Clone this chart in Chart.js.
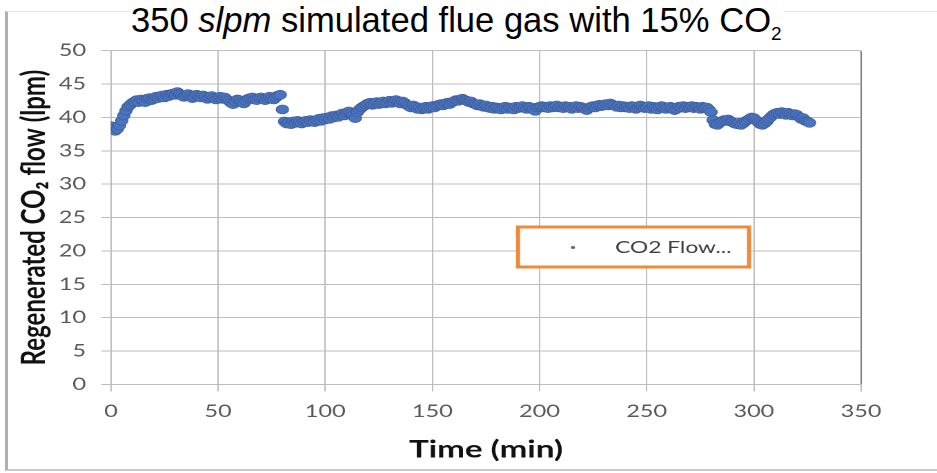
<!DOCTYPE html>
<html>
<head>
<meta charset="utf-8">
<script src="https://cdn.jsdelivr.net/npm/chart.js@4.4.1/dist/chart.umd.min.js"></script>
<style>
html, body { margin:0; padding:0; background:#fff; width:937px; height:473px; overflow:hidden; }
#frame { position:absolute; left:5px; top:11px; width:940px; height:457px;
  border-left:3px solid #b0b0b0; border-top:1px solid #e2e2e2; border-bottom:2px solid #c8c8c8; }
#wrap { position:absolute; left:0; top:0; width:679px; height:473px; transform:scaleX(1.38); transform-origin:0 0; }
#title { position:absolute; left:129px; top:1px; padding:0 2px; background:#fff;
  font-family:"Liberation Sans", Arial, sans-serif; font-size:34.6px; line-height:38px; color:#000; white-space:nowrap; }
#title .sub { font-size:19px; position:relative; top:8px; }
</style>
</head>
<body>
<div id="frame"></div>
<div id="wrap"><canvas id="c" width="679" height="473"></canvas></div>
<div id="title">350 <i>slpm</i> simulated flue gas with 15% CO<span class="sub">2</span></div>
<script>
// ---- data ----
const legendLabel = 'CO2 Flow...';
const xTitle = 'Time (min)';
const yTitle = 'Regenerated CO\u2082 flow (lpm)';
const xTicks = [0, 50, 100, 150, 200, 250, 300, 350];
const yTicks = [0, 5, 10, 15, 20, 25, 30, 35, 40, 45, 50];

const times = [
  0,1,2,3,4,5,6,7,8,9,10,11,12,13,14,15,16,17,18,19,
  20,21,22,23,24,25,26,27,28,29,30,31,32,33,34,35,36,37,38,39,
  40,41,42,43,44,45,46,47,48,49,50,51,52,53,54,55,56,57,58,59,
  60,61,62,63,64,65,66,67,68,69,70,71,72,73,74,75,76,77,78,79,
  80,81,82,83,84,85,86,87,88,89,90,91,92,93,94,95,96,97,98,99,
  100,101,102,103,104,105,106,107,108,109,110,111,112,113,114,115,116,117,118,119,
  120,121,122,123,124,125,126,127,128,129,130,131,132,133,134,135,136,137,138,139,
  140,141,142,143,144,145,146,147,148,149,150,151,152,153,154,155,156,157,158,159,
  160,161,162,163,164,165,166,167,168,169,170,171,172,173,174,175,176,177,178,179,
  180,181,182,183,184,185,186,187,188,189,190,191,192,193,194,195,196,197,198,199,
  200,201,202,203,204,205,206,207,208,209,210,211,212,213,214,215,216,217,218,219,
  220,221,222,223,224,225,226,227,228,229,230,231,232,233,234,235,236,237,238,239,
  240,241,242,243,244,245,246,247,248,249,250,251,252,253,254,255,256,257,258,259,
  260,261,262,263,264,265,266,267,268,269,270,271,272,273,274,275,276,277,278,279,
  280,281,282,283,284,285,286,287,288,289,290,291,292,293,294,295,296,297,298,299,
  300,301,302,303,304,305,306,307,308,309,310,311,312,313,314,315,316,317,318,319,
  320,321,322,323,324,325,326
];

const co2Flow = [
  38.7, 38.3, 38.0, 38.3, 38.8, 39.5, 40.3, 41.0, 41.6, 41.9,
  42.2, 42.4, 42.6, 42.3, 42.7, 42.5, 42.3, 42.8, 42.9, 42.6,
  42.8, 43.1, 42.9, 43.2, 43.3, 43.0, 43.4, 43.2, 43.5, 43.6,
  43.4, 43.8, 43.5, 43.3, 43.1, 43.3, 43.5, 43.2, 42.9, 43.1,
  43.4, 43.2, 43.0, 43.3, 43.1, 42.8, 43.0, 43.2, 42.9, 42.7,
  43.0, 43.1, 42.8, 43.0, 42.7, 42.5, 42.2, 42.0, 42.4, 42.7,
  42.6, 42.3, 42.1, 42.5, 42.8, 42.9, 43.0, 42.7, 42.6, 42.9,
  43.0, 42.8, 42.6, 42.9, 43.1, 42.8, 42.7, 43.0, 43.3, 43.4,
  41.2, 39.4, 39.1, 39.3, 39.0, 39.4, 39.2, 39.5, 39.3, 39.1,
  39.4, 39.5, 39.3, 39.6, 39.4, 39.3, 39.6, 39.8, 39.5, 39.9,
  39.7, 40.0, 39.8, 40.2, 40.0, 40.3, 40.1, 40.4, 40.6, 40.3,
  40.7, 40.9, 40.6, 40.3, 39.9, 40.8, 41.2, 41.5, 41.7, 41.9,
  42.1, 42.2, 41.9, 42.1, 42.3, 42.0, 42.2, 42.4, 42.1, 42.3,
  42.5, 42.2, 42.4, 42.6, 42.3, 42.1, 42.4, 42.2, 41.9, 41.7,
  41.5, 41.8, 41.6, 41.3, 41.5, 41.2, 41.4, 41.6, 41.3, 41.5,
  41.7, 41.5, 41.8, 41.9, 42.0, 41.8, 42.1, 42.2, 42.0, 42.3,
  42.4, 42.6, 42.5, 42.7, 42.8, 42.6, 42.5, 42.3, 42.4, 42.1,
  42.0, 41.8, 42.0, 41.7, 41.6, 41.8, 41.5, 41.4, 41.6, 41.3,
  41.5, 41.4, 41.2, 41.5, 41.6, 41.3, 41.5, 41.4, 41.2, 41.6,
  41.4, 41.5, 41.7, 41.4, 41.3, 41.6, 41.5, 41.2, 41.0, 41.5,
  41.6, 41.7, 41.5, 41.6, 41.4, 41.7, 41.5, 41.6, 41.8, 41.5,
  41.6, 41.4, 41.7, 41.5, 41.6, 41.3, 41.5, 41.7, 41.4, 41.6,
  41.5, 41.3, 41.1, 41.4, 41.6, 41.7, 41.5, 41.8, 41.9, 41.7,
  41.8, 42.0, 41.8, 42.1, 41.9, 41.8, 41.6, 41.8, 41.5, 41.7,
  41.5, 41.6, 41.4, 41.7, 41.6, 41.3, 41.5, 41.8, 41.6, 41.4,
  41.5, 41.7, 41.3, 41.6, 41.4, 41.2, 41.6, 41.7, 41.5, 41.3,
  41.5, 41.6, 41.4, 41.1, 41.3, 41.6, 41.5, 41.7, 41.4, 41.6,
  41.5, 41.7, 41.4, 41.6, 41.5, 41.3, 41.6, 41.4, 41.5, 41.2,
  40.8, 39.6, 39.0, 38.9, 39.2, 39.4, 39.6, 39.5, 39.7, 39.4,
  39.3, 39.1, 39.0, 39.2, 38.9, 39.1, 39.4, 39.6, 39.8, 40.0,
  39.9, 39.6, 39.3, 39.0, 38.9, 39.1, 39.4, 39.8, 40.1, 40.4,
  40.6, 40.7, 40.5, 40.8, 40.6, 40.4, 40.7, 40.5, 40.3, 40.5,
  40.4, 40.1, 39.8, 39.9, 39.5, 39.4, 39.2
];

// ---- chart ----
const points = times.map((t, i) => ({ x: t, y: co2Flow[i] }));
const gridGray = '#bdbdbd';

const boxLegend = {
  id: 'boxLegend',
  afterDatasetsDraw(chart) {
    const ctx = chart.ctx;
    const ds = chart.data.datasets[0];
    ctx.save();
    ctx.fillStyle = '#ffffff';
    ctx.fillRect(375.4, 227, 167.4, 40);
    ctx.strokeStyle = '#ee8a3c';
    ctx.lineWidth = 3;
    ctx.strokeRect(375.4, 227, 167.4, 40);
    ctx.fillStyle = '#5d6680';
    ctx.beginPath();
    ctx.arc(415.2, 247.5, 1.5, 0, Math.PI * 2);
    ctx.fill();
    ctx.fillStyle = '#404040';
    ctx.font = '16.5px Lato';
    ctx.textBaseline = 'middle';
    ctx.textAlign = 'left';
    ctx.fillText(ds.label, 445.7, 247.5);
    ctx.restore();
  }
};

new Chart(document.getElementById('c'), {
  type: 'scatter',
  data: {
    datasets: [{
      label: legendLabel,
      data: points,
      backgroundColor: '#4a74be',
      borderColor: '#3f5f9f',
      borderWidth: 0.7,
      pointRadius: 4.5,
      pointHoverRadius: 4.5
    }]
  },
  options: {
    responsive: false,
    animation: false,
    devicePixelRatio: 2,
    layout: { padding: { top: 50.7, right: 55.1, bottom: 0, left: 0 } },
    plugins: { legend: { display: false }, tooltip: { enabled: false }, title: { display: false } },
    scales: {
      x: {
        type: 'linear', min: 0, max: 350,
        afterBuildTicks: s => { s.ticks = xTicks.map(v => ({ value: v })); },
        ticks: { padding: 10, color: '#595959', font: { family: 'Lato', size: 17 }, maxRotation: 0, autoSkip: false },
        grid: { color: c => (c.tick && c.tick.value === 350) ? '#808080' : gridGray, tickColor: gridGray, tickLength: 7, lineWidth: 1 },
        border: { color: gridGray },
        title: { display: true, text: xTitle, color: '#111', font: { family: 'Lato', size: 24, weight: 'bold' }, padding: { top: 0, bottom: 8.6 } },
        afterFit: s => { s.height = 88.5; }
      },
      y: {
        type: 'linear', min: 0, max: 50,
        afterBuildTicks: s => { s.ticks = yTicks.map(v => ({ value: v })); },
        ticks: { padding: 11.1, color: '#595959', font: { family: 'Lato', size: 17 }, autoSkip: false },
        grid: { color: gridGray, tickColor: gridGray, tickLength: 7, lineWidth: 1 },
        border: { color: gridGray },
        title: { display: true, text: yTitle, color: '#111', font: { family: 'Lato', size: 24, weight: 'bold' }, padding: { top: 10.2, bottom: 0 } },
        afterFit: s => { s.width = 80.4; }
      }
    }
  },
  plugins: [boxLegend]
});
</script>
</body>
</html>
